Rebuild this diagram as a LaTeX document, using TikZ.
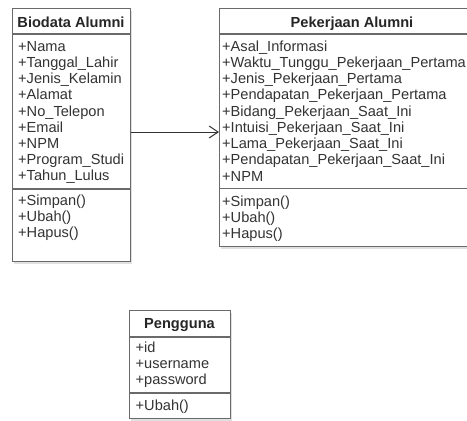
\documentclass[tikz,border=0pt]{standalone}
\usepackage{fontspec}
\setmainfont{Liberation Sans}
\usetikzlibrary{arrows.meta,shadows}
\definecolor{umlline}{HTML}{6A6A6A}
\definecolor{umltext}{HTML}{333333}
\begin{document}
\begin{tikzpicture}[x=1pt,y=-1pt,
  classbox/.style={draw=umlline, line width=1.1pt, fill=white, rectangle, inner sep=0pt, anchor=north west,
    drop shadow={shadow xshift=1.5pt, shadow yshift=-2pt, fill=black, opacity=0.12}},
  divider/.style={draw=umlline, line width=1.1pt},
  head/.style={anchor=base, inner sep=0pt, font=\fontsize{14.6}{16}\selectfont\bfseries, text=black!85},
  attr/.style={anchor=base west, inner sep=0pt, font=\fontsize{14.6}{16}\selectfont, text=umltext},
  assoc/.style={draw=umltext, line width=1pt, -{Straight Barb[length=9pt,width=12pt]}}]
\clip (0,0) rectangle (467,421);
\fill[white] (0,0) rectangle (467,421);

% Biodata Alumni
\node[classbox, minimum width=118pt, minimum height=253pt] (bio) at (12,8) {};
\coordinate (bd1) at (0,34);
\coordinate (bd2) at (0,189);
\draw[divider] (bio.west |- bd1) -- (bio.east |- bd1);
\draw[divider] (bio.west |- bd2) -- (bio.east |- bd2);
\node[head] (bioh) at (71,27.3) {Biodata Alumni};
\foreach \t [count=\i from 0] in {Nama,Tanggal\_Lahir,Jenis\_Kelamin,Alamat,No\_Telepon,Email,NPM,Program\_Studi,Tahun\_Lulus}
  \node[attr] (ba\i) at (18,{51.2+16.2*\i}) {+\t};
\foreach \t [count=\i from 0] in {Simpan(),Ubah(),Hapus()}
  \node[attr] (bm\i) at (18,{205.7+16*\i}) {+\t};

% Pekerjaan Alumni
\node[classbox, minimum width=266pt, minimum height=238pt] (pek) at (219,8) {};
\coordinate (pd1) at (0,34);
\coordinate (pd2) at (0,188.3);
\draw[divider] (pek.west |- pd1) -- (pek.east |- pd1);
\draw[divider] (pek.west |- pd2) -- (pek.east |- pd2);
\node[head] (pekh) at (352,27.3) {Pekerjaan Alumni};
\foreach \t [count=\i from 0] in {Asal\_Informasi,Waktu\_Tunggu\_Pekerjaan\_Pertama,Jenis\_Pekerjaan\_Pertama,Pendapatan\_Pekerjaan\_Pertama,Bidang\_Pekerjaan\_Saat\_Ini,Intuisi\_Pekerjaan\_Saat\_Ini,Lama\_Pekerjaan\_Saat\_Ini,Pendapatan\_Pekerjaan\_Saat\_Ini,NPM}
  \node[attr] (pa\i) at (222,{51+16.25*\i}) {+\t};
\foreach \t [count=\i from 0] in {Simpan(),Ubah(),Hapus()}
  \node[attr] (pm\i) at (222,{206+16*\i}) {+\t};

% Pengguna
\node[classbox, minimum width=101pt, minimum height=108pt] (usr) at (129,310) {};
\coordinate (ud1) at (0,337);
\coordinate (ud2) at (0,393);
\draw[divider] (usr.west |- ud1) -- (usr.east |- ud1);
\draw[divider] (usr.west |- ud2) -- (usr.east |- ud2);
\node[head] (usrh) at (179.5,328.5) {Pengguna};
\foreach \t [count=\i from 0] in {id,username,password}
  \node[attr] (ua\i) at (135.5,{352.7+16*\i}) {+\t};
\node[attr] (um0) at (135.5,410) {+Ubah()};

% association
\coordinate (ay) at (0,132);
\draw[assoc] (bio.east |- ay) -- (pek.west |- ay);
\end{tikzpicture}
\end{document}
